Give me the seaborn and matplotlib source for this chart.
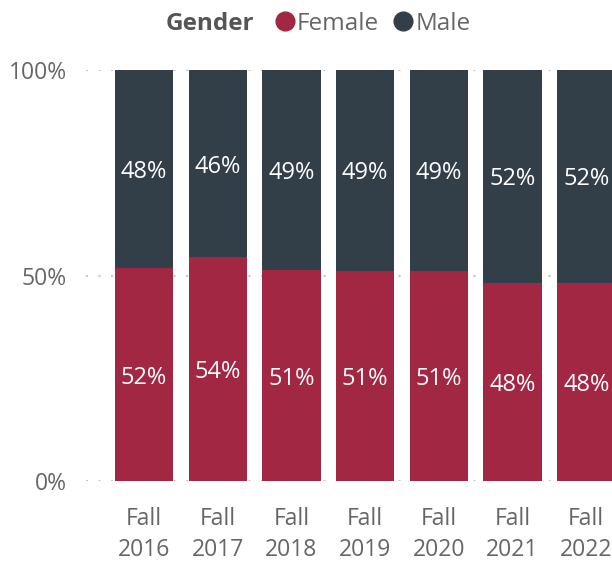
import numpy as np
import pandas as pd
import matplotlib
matplotlib.use("Agg")
import matplotlib.pyplot as plt
from matplotlib.lines import Line2D
import seaborn as sns

terms = ["Fall\n2016", "Fall\n2017", "Fall\n2018", "Fall\n2019", "Fall\n2020", "Fall\n2021", "Fall\n2022"]
female = [51.8, 54.5, 51.3, 51.1, 51.1, 48.2, 48.2]
male = [48.2, 45.5, 48.7, 48.9, 48.9, 51.8, 51.8]

red = "#A12743"
dark = "#333F48"
grey = "#666666"

sns.set_style("white")
plt.rcParams['font.family'] = ['Open Sans', 'DejaVu Sans']

df = pd.DataFrame({"term": terms, "Female": female, "Male": male})
df["total"] = df["Female"] + df["Male"]

fig = plt.figure(figsize=(6.12, 5.63), dpi=100)
ax = fig.add_axes([86 / 612, 1 - 481 / 563, 1 - 86 / 612, 411 / 563])

# gridlines first so the bars sit on top
for y in [0, 50, 100]:
    ax.axhline(y, color="#C8C8C8", lw=1.5, linestyle=(0, (1, 5)), zorder=0)

sns.barplot(data=df, x="term", y="total", color=dark, width=0.79, saturation=1, linewidth=0, ax=ax, zorder=2)
sns.barplot(data=df, x="term", y="Female", color=red, width=0.79, saturation=1, linewidth=0, ax=ax, zorder=3)

for i, (f, m) in enumerate(zip(female, male)):
    ax.text(i, f / 2, f"{round(f)}%", ha="center", va="center_baseline", color="white", fontsize=17, zorder=4)
    ax.text(i, f + m / 2, f"{round(m)}%", ha="center", va="center_baseline", color="white", fontsize=17, zorder=4)

ax.set_xlim(-0.787, 6.35)
ax.set_ylim(0, 100)
ax.set_yticks([0, 50, 100])
ax.set_yticklabels(["0%", "50%", "100%"])
ax.set_xlabel("")
ax.set_ylabel("")
ax.tick_params(axis="y", length=0, pad=14, labelsize=16.5, labelcolor=grey)
ax.tick_params(axis="x", length=0, pad=19, labelsize=16.5, labelcolor=grey)
for lbl in ax.get_xticklabels():
    lbl.set_linespacing(1.38)
sns.despine(ax=ax, left=True, bottom=True)

fig.text(166 / 612, 1 - 24 / 563, "Gender", fontsize=17.5, fontweight="bold", color="#555555", ha="left", va="center")
handles = [Line2D([], [], marker="o", linestyle="", color=red, markersize=13.5, label="Female"),
           Line2D([], [], marker="o", linestyle="", color=dark, markersize=13.5, label="Male")]
leg = fig.legend(handles=handles, loc="center left", bbox_to_anchor=(270 / 612, 1 - 24 / 563), ncol=2,
                 frameon=False, fontsize=17.5, handletextpad=-0.1, columnspacing=0.4, handlelength=1.2,
                 borderaxespad=0, borderpad=0)
for t in leg.get_texts():
    t.set_color(grey)

fig.savefig("out.png", dpi=100)
